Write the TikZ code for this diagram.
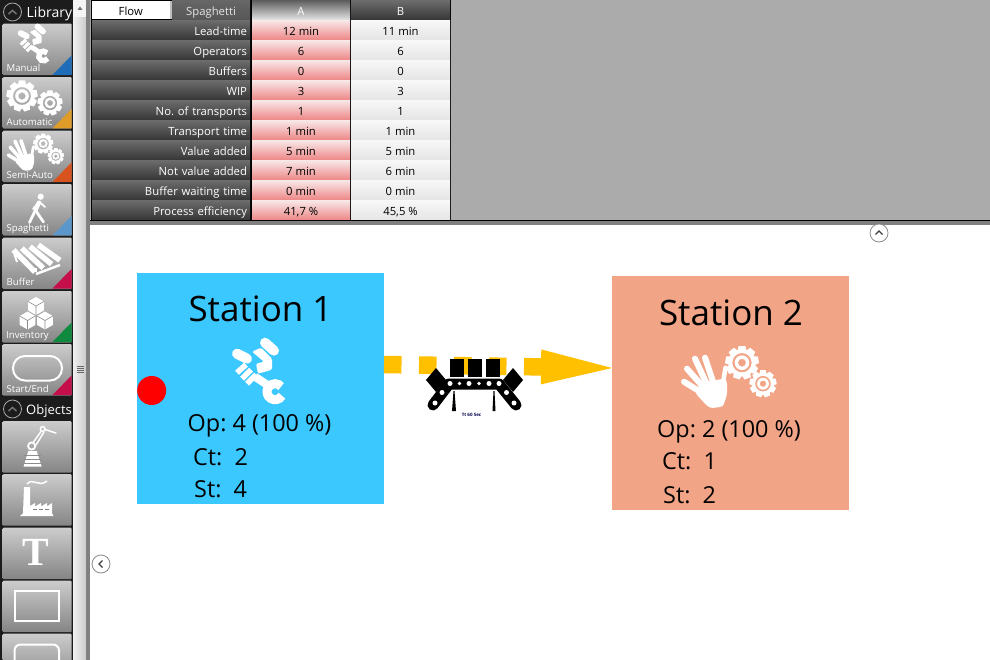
\documentclass[tikz,border=0pt]{standalone}
\usepackage{fontspec}
\setmainfont{Open Sans}
\newfontfamily\tserif{Liberation Serif}
\usetikzlibrary{arrows.meta,calc}
\frenchspacing
\definecolor{sideblack}{HTML}{1C1C1C}
\definecolor{panelgray}{HTML}{ABABAB}
\definecolor{stripgray}{HTML}{808080}
\definecolor{stationblue}{HTML}{3BC8FF}
\definecolor{stationsalmon}{HTML}{F2A487}
\definecolor{flowyellow}{HTML}{FFC000}
\definecolor{pinktop}{HTML}{F8E6E6}
\definecolor{pinkbot}{HTML}{EE8A8A}
\tikzset{
  fs/.style={font=\fontsize{#1}{#1}\selectfont},
  cell/.style={rectangle,anchor=north west,inner sep=0pt,outer sep=0pt,minimum height=18.5pt,text height=13.5pt,text depth=2pt,fs=11.3},
  icontxt/.style={anchor=base west,inner sep=0pt,text=white,fs=9.6},
  btn/.style={rectangle,anchor=north west,inner sep=0pt,minimum width=69pt,minimum height=51.5pt,top color=#1,bottom color=black!48,rounded corners=1pt},
  stn/.style={rectangle,inner sep=0pt,outer sep=0pt,anchor=north west},
  title/.style={anchor=base,inner sep=0pt,fs=35,text=black},
  info/.style={anchor=base west,inner sep=0pt,fs=23.4,text=black},
  chev/.style={circle,draw=#1,fill=white,line width=.8pt,minimum size=18pt,inner sep=0pt},
  wline/.style={draw=white,line cap=round,line join=round},
  pics/gear/.style={code={
    \begin{scope}[scale=#1]
      \foreach \a in {0,40,...,320}
        \fill[white,rotate=\a] (-.2,-1) -- (.2,-1) -- (.27,-.72) -- (-.27,-.72) -- cycle;
      \fill[white,even odd rule] (0,0) circle[radius=.8] circle[radius=.58] circle[radius=.44] circle[radius=.24];
    \end{scope}}},
  pics/handgears/.style={code={
    \begin{scope}[scale=#1]
      \foreach \x/\y/\u/\v/\w in {-26/-5/-10/5/6,-23/-18/-7/0/6,-15/-28/-3/-2/6,-5/-29/4/-2/6,15.5/-19/12/2/4.5}
        \draw[wline,line width=#1*\w pt] (\x,\y) -- (\u,\v);
      \fill[white,rounded corners=3*#1 pt] (-9,-4) -- (14,-8) -- (17,-6) -- (17,8) -- (13,20) -- (0,21.5) -- (-5,17) -- (-15,6) -- cycle;
      \pic[transform shape] at (32,-24) {gear=16.7};
      \pic[transform shape] at (53,-3) {gear=13.5};
    \end{scope}}},
  pics/wrenchhand/.style={code={
    \begin{scope}[scale=#1]
      \draw[wline,line width=#1*10pt] (-23,-18) -- (-13,-13);
      \draw[white,line width=#1*5.5pt] (-23,1) -- (-14,-7);
      \draw[white,line width=#1*5.5pt] (-18,7) -- (-9,-2);
      \draw[white,line width=#1*5.5pt] (-13,12) -- (-4,3);
      \draw[white,line width=#1*8pt] (-5,5) -- (10,15);
      \draw[white,line width=#1*9pt] (15,20) ++(30:8) arc[start angle=30,end angle=320,radius=8];
      \draw[wline,line width=#1*10pt] (5,-29) -- (14,-21);
      \fill[white,rounded corners=1.5*#1 pt] (-8,-20) -- (1,-24) -- (12,-13) -- (12,-2) -- (-2,2) -- (-4,-8) -- (4,-10) -- cycle;
    \end{scope}}},
  pics/cube/.style={code={
    \begin{scope}[scale=#1]
      \fill[white] (0,-1) -- (.87,-.5) -- (.87,.5) -- (0,1) -- (-.87,.5) -- (-.87,-.5) -- cycle;
      \draw[black!45,line width=.6pt] (-.87,-.5) -- (0,0) -- (.87,-.5) (0,0) -- (0,1);
    \end{scope}}}
}
\begin{document}
\begin{tikzpicture}[x=1pt,y=-1pt]
\useasboundingbox (0,0) rectangle (990,660);
\fill[white] (0,0) rectangle (990,660);
% top panel
\fill[panelgray] (90,0) rectangle (990,220);
\fill[black] (90,220) rectangle (990,221.5);
\fill[stripgray] (90,221.5) rectangle (990,225);
% side bars
\fill[sideblack] (0,0) rectangle (72.5,660);
\shade[left color=white!94!black,right color=black!20] (73,0) rectangle (86,660);
\fill[white!96!black] (73,0) rectangle (86,17);
\fill[stripgray] (86,0) rectangle (90,660);
\fill[black!55] (77.5,10) -- (80,6.5) -- (82.5,10) -- cycle;
\foreach \y in {366.5,368.5,370.5,372.5}
  \draw[black!60,line width=.8pt] (77,\y) -- (84,\y);
% library header
\node[circle,draw=black!35,line width=.8pt,minimum size=18pt,inner sep=0pt] (libc) at (12.5,12) {};
\draw[black!55,line width=1.5pt] (8.5,14) -- (12.5,10.5) -- (16.5,14);
\node[anchor=base west,inner sep=0pt,text=white,fs=14] (libt) at (26.5,18) {Library};
% buttons
\foreach \n/\yy in {m/23.5,a/77,s/130.5,p/184,b/237.5,i/291,e/344,r/421,f/474,t/527.5,q/580.5,o/633.5}
  \node[btn=black!20] (b\n) at (2.5,\yy) {};
% corner triangles
\foreach \yy/\c in {75/1F6DB8,128.5/E09C28,182/D9531E,235.5/5C97CC,288.5/C40F4B,342/0F8A3E,395/C40F4B}{
  \definecolor{tri}{HTML}{\c}
  \fill[tri] (71.5,\yy-19.5) -- (71.5,\yy) -- (52.5,\yy) -- cycle;
}
\node[icontxt] (lm) at (6.5,72) {Manual};
\node[icontxt] (la) at (6.5,126) {Automatic};
\node[icontxt] (ls) at (6.5,179) {Semi-Auto};
\node[icontxt] (lp) at (6.5,232) {Spaghetti};
\node[icontxt] (lb) at (6.5,285) {Buffer};
\node[icontxt] (li) at (6,338.5) {Inventory};
\node[icontxt] (le) at (6.5,392) {Start/End};
% objects header
\node[circle,draw=black!35,line width=.8pt,minimum size=18pt,inner sep=0pt] (objc) at (12.5,409) {};
\draw[black!55,line width=1.5pt] (8.5,411) -- (12.5,407.5) -- (16.5,411);
\node[anchor=base west,inner sep=0pt,text=white,fs=13] (objt) at (26,414.5) {Objects};
% icons
\pic at (34.5,44) {wrenchhand=.6};
\pic at (22,96) {gear=15.5};
\pic at (50,103) {gear=12.5};
\pic at (24,158) {handgears=.6};
% walker
\fill[white] (40.7,196.7) circle[radius=3.1];
\draw[wline,line width=4.2pt] (39,202.5) -- (35.5,210);
\draw[wline,line width=1.8pt] (39.5,202) -- (45,207);
\draw[wline,line width=1.8pt] (38,203) -- (33,209);
\draw[wline,line width=2.8pt] (35.5,210) -- (29.5,222.5);
\draw[wline,line width=2.8pt] (35.5,210) -- (39,215.5) -- (43.5,222);
% pallet
\foreach \k in {0,1,2,3}
  \draw[white,line width=5.4pt] ({13.5+\k*8.3},{250-\k*1.7}) -- ({35+\k*8.3},{272-\k*3.9});
\draw[white,line width=2.5pt] (36,274) -- (60,265);
\draw[white,line width=2pt] (14,253) -- (17,262);
\draw[white,line width=3pt] (35,268) -- (35,272);
% cubes
\pic at (36,306) {cube=9};
\pic at (27.5,320.5) {cube=9};
\pic at (45,320.5) {cube=9};
% stadium
\draw[white,line width=2pt,rounded corners=12pt] (13,356) rectangle (62,380.5);
% robot
\fill[white] (23.5,466.7) -- (41.7,466.7) -- (36.7,451) -- (28.3,451) -- cycle;
\foreach \y in {455,459,463}
  \draw[black!45,line width=.5pt] (24,\y) -- (41,\y);
\draw[white,line width=1.8pt] (31.7,446) circle[radius=3.6];
\draw[white,line width=1.5pt] (33.5,442) -- (41,431.5);
\draw[white,line width=1.5pt] (36,445) -- (44,432);
\draw[white,line width=1.4pt] (42.7,429) circle[radius=2.4];
\draw[white,line width=1.5pt,line cap=round] (45,429.5) -- (56,433);
% factory
\fill[white] (20,516) -- (53.5,516) -- (52,513) -- (52,503) -- (47,506.5) -- (47,503) -- (41,506.5) -- (41,503) -- (35,506.5) -- (35,503) -- (30,506) -- (30,487) -- (24,487) -- (23,513) -- cycle;
\foreach \x in {33,39,45}
  \draw[black!50,line width=.8pt] (\x,509.5) -- (\x+3.5,509.5);
\draw[white,line width=1.5pt] (27,484) .. controls (33,477) and (38,488) .. (47,481);
% T
\node[inner sep=0pt,text=white,font=\fontsize{40}{40}\selectfont\tserif\bfseries] (tt) at (36,552) {T};
% outline rect
\draw[white,line width=2pt] (14.5,591) rectangle (59,621);
\draw[white,line width=2pt,rounded corners=6pt] (14.5,644.5) rectangle (59,680);
% table
\fill[black] (91,0) rectangle (451,220);
\node[cell,minimum width=77.5pt,fill=white,text=black] (flow) at (92,.7) {Flow};
\fill[black!25] (169.5,.7) rectangle (172,19.2);
\node[cell,minimum width=78pt,top color=black!60,bottom color=black!66,text=white!90!black] (spag) at (172,.7) {Spaghetti};
\node[cell,minimum width=98pt,top color=black!62,bottom color=black!12,text=white] (hA) at (252,.7) {A};
\node[cell,minimum width=99pt,top color=black!58,bottom color=black!78,text=white] (hB) at (351,.7) {B};
\foreach \lab/\va/\vb [count=\i] in {Lead-time/12 min/11 min,Operators/6/6,Buffers/0/0,WIP/3/3,No. of transports/1/1,Transport time/1 min/1 min,Value added/5 min/5 min,Not value added/7 min/6 min,Buffer waiting time/0 min/0 min,Process efficiency/{41,7 \%}/{45,5 \%}}{
  \node[cell,minimum width=158pt,top color=black!58,bottom color=black!78,text=white,text width=155pt,align=right] (l\i) at (92,20*\i+.7) {\lab\hspace*{1.5pt}};
  \node[cell,minimum width=98pt,top color=pinktop,bottom color=pinkbot,text=black] (a\i) at (252,20*\i+.7) {\va};
  \node[cell,minimum width=99pt,top color=white!97!black,bottom color=white!90!black,text=black] (b\i) at (351,20*\i+.7) {\vb};
}
% chevron buttons
\node[chev=black!45] (upbtn) at (879,233) {};
\draw[black!75,line width=1.3pt] (875.5,234.5) -- (879,231) -- (882.5,234.5);
\node[chev=black!45] (leftbtn) at (101,564) {};
\draw[black!75,line width=1.3pt] (102.5,560.5) -- (99,564) -- (102.5,567.5);
% stations
\node[stn,fill=stationblue,minimum width=247pt,minimum height=231pt] (s1) at (137,273) {};
\node[stn,fill=stationsalmon,minimum width=237pt,minimum height=234pt] (s2) at (612,276) {};
% flow connector
\draw[flowyellow,line width=17.5pt,dash pattern=on 17.5pt off 17.5pt,-{Triangle[length=71pt,width=35pt,line width=0pt]}] ([yshift=24pt]s1.east) -- ([yshift=25pt]s2.west);
% station 1
\node[title] (t1) at (260.5,321) {Station 1};
\pic at (260,371.7) {wrenchhand=1};
\node[circle,fill=red,minimum size=29pt,inner sep=0pt] (dot) at (151.7,390.5) {};
\node[info] (o1) at (187.5,431) {Op: 4 (100 \%)};
\node[info] (c1) at (193,465) {Ct:\ \ 2};
\node[info] (st1) at (194,497) {St:\ \ 4};
% station 2
\node[title] (t2) at (731,325) {Station 2};
\pic at (710,386.7) {handgears=1};
\node[info] (o2) at (657,437) {Op: 2 (100 \%)};
\node[info] (c2) at (662,469) {Ct:\ \ 1};
\node[info] (st2) at (663,503) {St:\ \ 2};
% conveyor
\foreach \x in {450,468,486}
  \fill[black] (\x,359) rectangle (\x+14,377);
\fill[black] (426,380) -- (436,368) -- (446,380) -- (436,392) -- cycle;
\fill[black] (503,380) -- (513,368) -- (523,380) -- (513,392) -- cycle;
\draw[black,line width=11pt,line cap=round,line join=round] (433,405) -- (449,384) -- (499,384) -- (516,405);
\foreach \x/\y/\r in {450/383.5/2.5,459.5/383.5/1.8,469/383.5/2.5,479/383.5/1.8,489/383.5/2.5,499/383.5/2.5,442/392.5/2.5,435/403/2.5,506.5/392.5/2.5,514/403/2.5}
  \fill[white] (\x,\y) circle[radius=\r];
\fill[black] (452,411) -- (456,411) -- (454.5,391) -- (453.5,391) -- cycle;
\fill[black] (492.5,411) -- (495.5,411) -- (494.5,391) -- (493.5,391) -- cycle;
\node[inner sep=0pt,text=black!70!blue,font=\fontsize{4.5}{5}\selectfont\bfseries] (tt60) at (471.5,415) {Tt 60 Sec};
\end{tikzpicture}
\end{document}
